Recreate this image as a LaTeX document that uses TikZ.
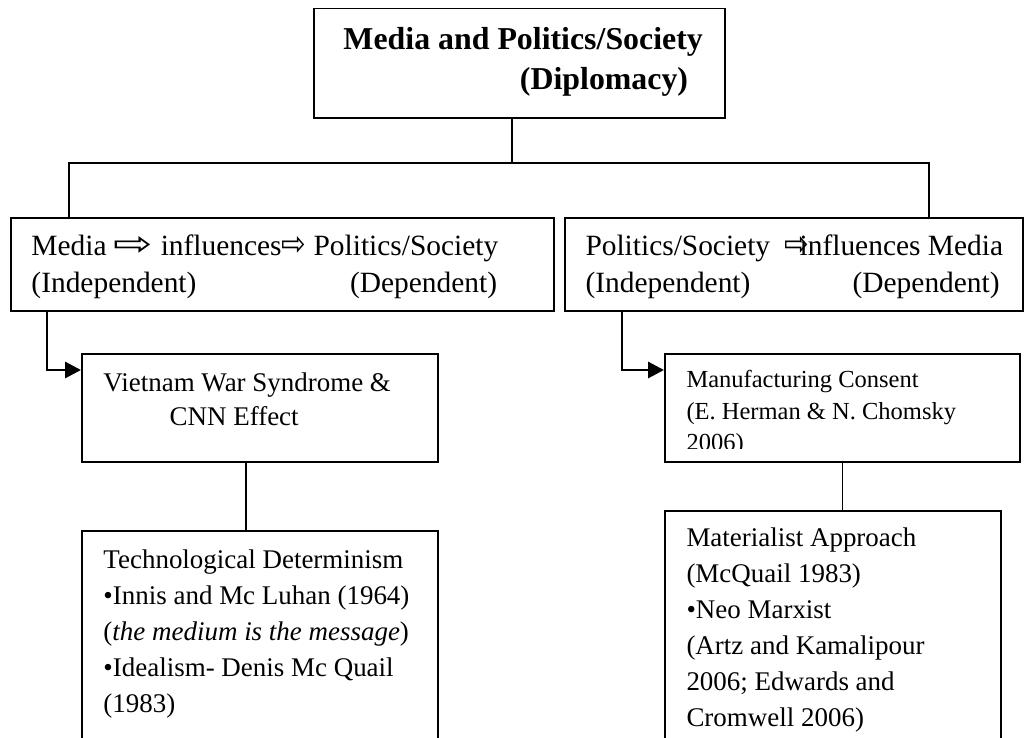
\documentclass[tikz,border=0pt]{standalone}
\usepackage{fontspec}
\setmainfont{Liberation Serif}
\newfontfamily\arrowfont{DejaVu Sans}
\usepackage{graphicx}
\usepackage{tikz}
\usetikzlibrary{arrows.meta, positioning, calc, fit}

\newcommand{\wideArrow}{\scalebox{1.6}[1.15]{\arrowfont ⇨}}
\newcommand{\thinArrow}{\scalebox{1}[1.15]{\arrowfont ⇨}}

\tikzset{
  box/.style={draw, line width=0.8pt, inner sep=0pt},
  txt/.style={anchor=north west, inner sep=0pt, align=left},
  link/.style={line width=0.8pt},
  elbow/.style={line width=1.2pt, -{Triangle[length=6.5pt, width=6.5pt]}},
}

\begin{document}
\begin{tikzpicture}[x=0.408pt, y=-0.408pt]
    \clip (0,0) rectangle (1025,738);

    % Boxes
    \node[box, fit={(314,8.5) (725,118)}] (top) {};
    \node[box, fit={(11,218) (554,311)}] (lvlL) {};
    \node[box, fit={(565,218) (1023,311)}] (lvlR) {};
    \node[box, fit={(82,354) (438,462)}] (viet) {};
    \node[box, fit={(665,354) (1020,462)}] (manu) {};
    \node[box, fit={(82,531) (438,770)}] (tech) {};
    \node[box, fit={(665,511) (1001,770)}] (mat) {};

    % Texts
    \node[txt, font=\fontsize{13}{16.3}\selectfont\bfseries] (topTxt) at (343,27)
        {Media and Politics/Society\\\hspace*{72pt}(Diplomacy)};
    \node[txt, font=\fontsize{12}{15.1}\selectfont] (lvlLTxt) at (31,234)
        {Media \wideArrow{} influences\thinArrow{} Politics/Society\\
         \makebox[130pt][l]{(Independent)}(Dependent)};
    \node[txt, font=\fontsize{12}{15.1}\selectfont] (lvlRTxt) at (585,234)
        {Politics/Society\ \ \thinArrow\kern-4pt influences Media\\
         \makebox[109pt][l]{(Independent)}(Dependent)};
    \node[txt, font=\fontsize{11}{13.9}\selectfont] (vietTxt) at (103,372)
        {Vietnam War Syndrome \&\\\hspace*{27pt}CNN Effect};
    \begin{scope}
        \clip (manu.north west) rectangle ($(manu.south east)+(0,-14)$);
        \node[txt, font=\fontsize{10}{12.8}\selectfont] (manuTxt) at (686,370)
            {Manufacturing Consent\\(E. Herman \& N. Chomsky\\2006)};
    \end{scope}
    \node[txt, font=\fontsize{11}{14.7}\selectfont] (techTxt) at (103,549)
        {Technological Determinism\\
         •Innis and Mc Luhan (1964)\\
         (\textit{the medium is the message})\\
         •Idealism- Denis Mc Quail\\
         (1983)};
    \node[txt, font=\fontsize{11}{14.7}\selectfont] (matTxt) at (686,527)
        {Materialist Approach\\
         (McQuail 1983)\\
         •Neo Marxist\\
         (Artz and Kamalipour\\
         2006; Edwards and\\
         Cromwell 2006)};

    % Connectors
    \coordinate (hub) at (512,163);
    \coordinate (tapL) at (69,163);
    \coordinate (tapR) at (929,163);
    \draw[link] (top.south -| hub) -- (hub);
    \draw[link] (lvlL.north -| tapL) -- (tapL) -- (tapR) -- (lvlR.north -| tapR);

    \coordinate (dropL) at (47,370);
    \coordinate (dropR) at (622,370);
    \draw[elbow] (lvlL.south -| dropL) |- (viet.west |- dropL);
    \draw[elbow] (lvlR.south -| dropR) |- (manu.west |- dropR);

    \coordinate (stemL) at (246,500);
    \draw[link] (viet.south -| stemL) -- (tech.north -| stemL);
    \draw[link] (manu.south) -- (mat.north -| manu.south);
\end{tikzpicture}
\end{document}
